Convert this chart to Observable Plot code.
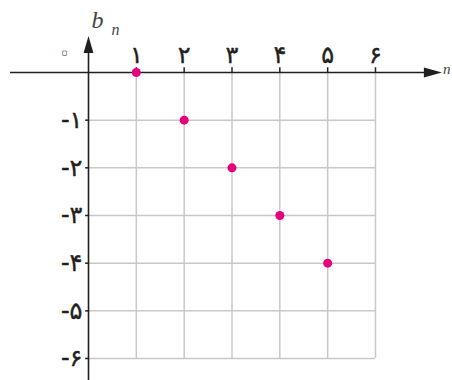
<!DOCTYPE html>
<html>
<head>
<meta charset="utf-8">
<script src="https://cdn.jsdelivr.net/npm/d3@7"></script>
<script src="https://cdn.jsdelivr.net/npm/@observablehq/plot@0.6"></script>
<style>
  html, body { margin: 0; padding: 0; background: #fff; }
</style>
</head>
<body>
<div id="chart"></div>
<script>
// Data
const nValues = [1, 2, 3, 4, 5];
const bValues = [0, -1, -2, -3, -4];
const xTicks = [1, 2, 3, 4, 5, 6];
const xTickLabels = ["۱", "۲", "۳", "۴", "۵", "۶"];
const yTicks = [-1, -2, -3, -4, -5, -6];
const yTickLabels = ["-۱", "-۲", "-۳", "-۴", "-۵", "-۶"];
const originLabel = "۰";

const points = nValues.map((n, i) => ({n, b: bValues[i]}));
const xLab = xTicks.map((v, i) => ({v, label: xTickLabels[i]}));
const yLab = yTicks.map((v, i) => ({v, label: yTickLabels[i]}));

const axisColor = "#231f20";
const gridColor = "#c8c8c8";
const dotColor = "#e6007e";

// narrow filled arrowheads
const arrowUp = {
  draw(ctx, size) {
    const s = Math.sqrt(size / Math.PI);
    ctx.moveTo(0, -s);
    ctx.lineTo(s * 0.58, s);
    ctx.lineTo(-s * 0.58, s);
    ctx.closePath();
  }
};
const arrowRight = {
  draw(ctx, size) {
    const s = Math.sqrt(size / Math.PI);
    ctx.moveTo(s, 0);
    ctx.lineTo(-s, s * 0.55);
    ctx.lineTo(-s, -s * 0.55);
    ctx.closePath();
  }
};

const digitFont = "DejaVu Sans";

const chart = Plot.plot({
  width: 452,
  height: 380,
  margin: 0,
  style: {background: "#fff"},
  x: {domain: [0, 6], range: [88, 375], axis: null},
  y: {domain: [0, -6], range: [72, 358], axis: null},
  marks: [
    // grid
    Plot.ruleX(xTicks, {x: d => d, y1: 0, y2: -6, stroke: gridColor, strokeWidth: 1.5}),
    Plot.ruleY(yTicks, {y: d => d, x1: 0, x2: 6, stroke: gridColor, strokeWidth: 1.5}),
    // axes
    Plot.ruleY([0], {x1: -1.63, x2: 7.1, stroke: axisColor, strokeWidth: 1.6}),
    Plot.ruleX([0], {y1: -6.55, y2: 0.45, stroke: axisColor, strokeWidth: 1.6}),
    // small ticks on axes
    Plot.ruleX(xTicks, {x: d => d, y1: 0, y2: 0.1, stroke: axisColor, strokeWidth: 1.5}),
    Plot.ruleY(yTicks, {y: d => d, x1: -0.06, x2: 0, stroke: axisColor, strokeWidth: 1.5}),
    // arrowheads
    Plot.dot([0], {x: 0, y: 0.59, symbol: arrowUp, r: 8.5, fill: axisColor, stroke: null}),
    Plot.dot([0], {x: 7.2, y: 0, symbol: arrowRight, r: 9, fill: axisColor, stroke: null}),
    // tick labels
    Plot.text(xLab, {x: "v", y: 0, text: "label", dy: -17, fontSize: 24, fontFamily: digitFont, fill: axisColor, stroke: axisColor, strokeWidth: 0.4}),
    Plot.text(yLab, {x: 0, y: "v", text: "label", dx: -6, textAnchor: "end", fontSize: 24, fontFamily: digitFont, fill: axisColor, stroke: axisColor, strokeWidth: 0.4}),
    Plot.text([originLabel], {x: 0, y: 0, text: d => d, dx: -24, dy: -20, fontSize: 30, fontFamily: digitFont, fill: "#fff", stroke: axisColor, strokeWidth: 1}),
    // axis titles
    Plot.text(["b"], {x: 0, y: 0, text: d => d, dx: 9, dy: -52, fontSize: 24, fontStyle: "italic", fontFamily: "Liberation Serif", fill: "#444"}),
    Plot.text(["n"], {x: 0, y: 0, text: d => d, dx: 27, dy: -43, fontSize: 16, fontStyle: "italic", fontFamily: "Liberation Serif", fill: "#444"}),
    Plot.text(["n"], {x: 7.2, y: 0, text: d => d, dx: 10, dy: -3, textAnchor: "start", fontSize: 15, fontStyle: "italic", fontFamily: "Liberation Serif", fill: "#444"}),
    // points
    Plot.dot(points, {x: "n", y: "b", r: 4.5, fill: dotColor, stroke: null})
  ]
});
document.getElementById("chart").appendChild(chart);
</script>
</body>
</html>
